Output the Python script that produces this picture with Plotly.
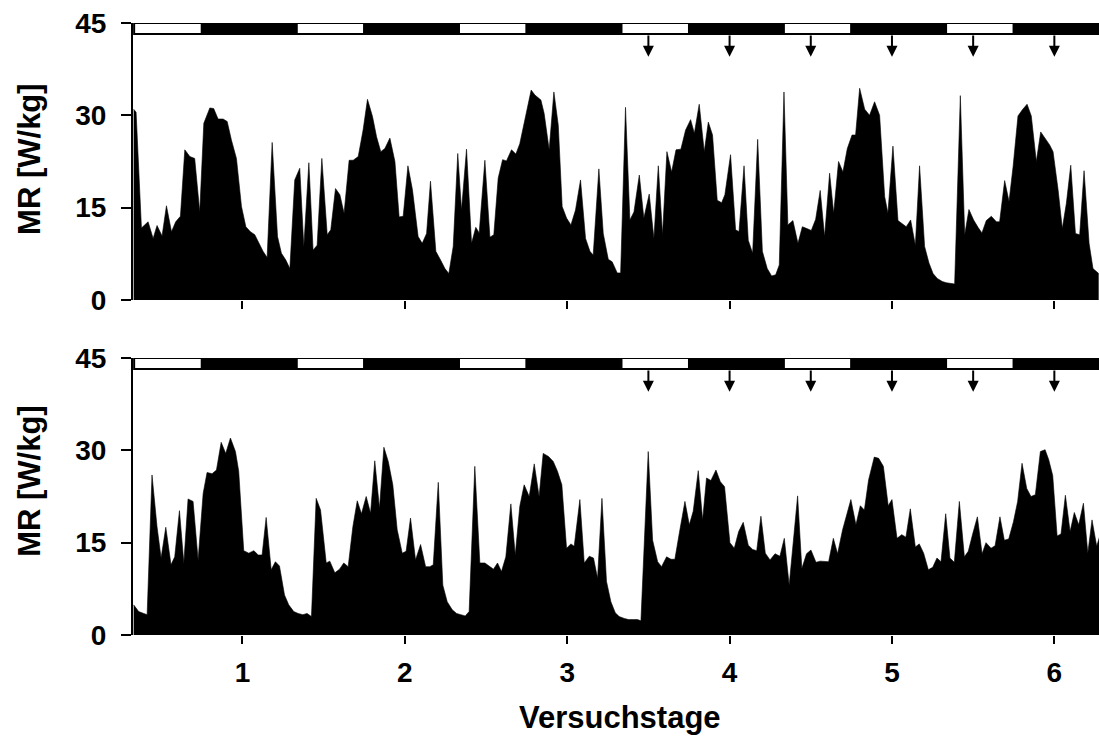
import plotly.graph_objects as go

# ---------------- data ----------------
top_day = [0.330, 0.345, 0.378, 0.419, 0.450, 0.474, 0.505, 0.532, 0.563, 0.589, 0.618, 0.645, 0.676, 0.706, 0.737,
           0.762, 0.799, 0.823, 0.850, 0.881, 0.906, 0.932, 0.963, 0.994, 1.021, 1.049, 1.076, 1.103, 1.127, 1.152,
           1.183, 1.216, 1.240, 1.267, 1.292, 1.322, 1.353, 1.378, 1.409, 1.435, 1.460, 1.489, 1.522, 1.544, 1.573,
           1.600, 1.626, 1.657, 1.682, 1.713, 1.743, 1.770, 1.801, 1.826, 1.852, 1.877, 1.908, 1.939, 1.965, 1.990,
           2.019, 2.047, 2.082, 2.107, 2.134, 2.158, 2.191, 2.220, 2.247, 2.271, 2.298, 2.326, 2.349, 2.380, 2.411,
           2.437, 2.458, 2.493, 2.524, 2.548, 2.575, 2.602, 2.626, 2.657, 2.684, 2.708, 2.739, 2.778, 2.801, 2.838,
           2.858, 2.889, 2.918, 2.945, 2.969, 2.996, 3.023, 3.051, 3.082, 3.113, 3.140, 3.160, 3.195, 3.222, 3.253,
           3.277, 3.308, 3.329, 3.359, 3.386, 3.411, 3.444, 3.472, 3.505, 3.534, 3.561, 3.587, 3.614, 3.643, 3.670,
           3.700, 3.729, 3.760, 3.783, 3.813, 3.844, 3.869, 3.895, 3.924, 3.951, 3.971, 4.006, 4.037, 4.058, 4.089,
           4.115, 4.142, 4.173, 4.202, 4.232, 4.259, 4.284, 4.306, 4.335, 4.359, 4.390, 4.421, 4.448, 4.476, 4.503,
           4.530, 4.558, 4.585, 4.616, 4.641, 4.671, 4.698, 4.725, 4.754, 4.776, 4.801, 4.832, 4.862, 4.893, 4.924,
           4.955, 4.975, 5.006, 5.037, 5.064, 5.088, 5.115, 5.144, 5.170, 5.201, 5.228, 5.253, 5.279, 5.310, 5.335,
           5.386, 5.421, 5.448, 5.474, 5.503, 5.530, 5.554, 5.581, 5.612, 5.643, 5.663, 5.694, 5.721, 5.746, 5.776,
           5.803, 5.832, 5.858, 5.889, 5.916, 5.945, 5.971, 5.992, 6.023, 6.049, 6.074, 6.101, 6.130, 6.156, 6.183,
           6.214, 6.238, 6.273]
top_mr = [31.0, 30.5, 11.7, 12.7, 10.0, 12.1, 10.4, 15.3, 11.1, 12.7, 13.6, 24.4, 23.3, 23.0, 14.3,
          28.7, 31.2, 31.1, 29.4, 29.4, 29.0, 26.0, 23.0, 15.2, 11.9, 11.1, 10.6, 9.2, 7.9, 6.9,
          25.6, 10.3, 7.6, 6.5, 5.1, 19.5, 21.4, 8.7, 22.3, 8.1, 8.9, 23.0, 10.6, 11.4, 18.1,
          17.1, 14.1, 22.7, 22.7, 23.3, 27.6, 32.6, 29.8, 26.5, 24.1, 24.6, 26.3, 22.5, 13.5, 13.6,
          21.8, 17.9, 10.3, 9.2, 10.8, 19.3, 7.9, 6.5, 5.1, 4.3, 8.7, 23.8, 14.6, 24.5, 9.2,
          11.8, 10.9, 22.7, 10.2, 10.6, 19.8, 22.8, 22.6, 24.4, 23.7, 25.4, 29.2, 34.1, 33.3, 32.5,
          30.3, 24.4, 33.8, 28.4, 15.2, 13.3, 12.2, 14.6, 19.5, 10.0, 7.9, 7.3, 21.3, 10.8, 6.6,
          6.2, 4.4, 4.4, 31.3, 13.0, 14.3, 20.3, 13.3, 17.2, 10.0, 21.8, 10.6, 24.1, 20.8, 24.4,
          24.5, 27.6, 29.3, 27.1, 31.8, 24.1, 28.9, 26.8, 16.2, 15.8, 17.1, 23.6, 11.4, 11.1, 21.8,
          9.7, 7.6, 26.1, 7.9, 5.1, 3.9, 4.1, 5.7, 33.8, 12.2, 12.9, 9.2, 11.9, 11.6, 11.3,
          13.1, 17.8, 10.3, 20.6, 14.1, 22.5, 20.8, 24.6, 26.8, 26.8, 34.4, 31.0, 30.0, 32.2, 30.0,
          16.8, 14.1, 25.0, 12.9, 12.3, 11.9, 13.0, 8.9, 21.8, 8.7, 6.0, 4.3, 3.5, 3.0, 2.8,
          2.6, 33.2, 10.6, 14.7, 13.0, 11.8, 10.9, 12.9, 13.6, 12.7, 12.7, 19.4, 16.0, 21.7, 29.9,
          30.9, 31.8, 29.9, 22.5, 27.3, 26.1, 25.2, 24.1, 17.9, 11.6, 15.7, 21.9, 10.8, 10.6, 21.0,
          9.2, 5.1, 4.3]

bottom_day = [0.330, 0.361, 0.392, 0.413, 0.443, 0.474, 0.499, 0.528, 0.560, 0.583, 0.612, 0.639, 0.665, 0.696, 0.727,
              0.758, 0.782, 0.813, 0.840, 0.869, 0.897, 0.926, 0.957, 0.977, 1.008, 1.039, 1.070, 1.097, 1.121, 1.146,
              1.177, 1.203, 1.228, 1.259, 1.285, 1.316, 1.343, 1.372, 1.398, 1.425, 1.454, 1.481, 1.516, 1.538, 1.569,
              1.598, 1.624, 1.651, 1.680, 1.707, 1.733, 1.762, 1.789, 1.815, 1.844, 1.871, 1.898, 1.926, 1.953, 1.984,
              2.008, 2.035, 2.066, 2.097, 2.128, 2.154, 2.175, 2.206, 2.234, 2.261, 2.292, 2.319, 2.345, 2.372, 2.396,
              2.431, 2.462, 2.493, 2.519, 2.546, 2.571, 2.595, 2.622, 2.653, 2.680, 2.708, 2.735, 2.766, 2.797, 2.827,
              2.852, 2.885, 2.914, 2.940, 2.967, 2.996, 3.023, 3.043, 3.078, 3.105, 3.136, 3.162, 3.187, 3.214, 3.242,
              3.269, 3.296, 3.320, 3.351, 3.378, 3.407, 3.433, 3.454, 3.499, 3.526, 3.557, 3.581, 3.612, 3.639, 3.663,
              3.694, 3.725, 3.752, 3.776, 3.807, 3.834, 3.858, 3.885, 3.916, 3.943, 3.969, 4.002, 4.029, 4.056, 4.084,
              4.115, 4.142, 4.167, 4.193, 4.220, 4.249, 4.280, 4.310, 4.337, 4.367, 4.394, 4.419, 4.445, 4.474, 4.501,
              4.532, 4.558, 4.583, 4.610, 4.639, 4.665, 4.696, 4.721, 4.747, 4.778, 4.805, 4.830, 4.856, 4.891, 4.918,
              4.947, 4.977, 5.000, 5.031, 5.060, 5.086, 5.113, 5.144, 5.168, 5.195, 5.224, 5.251, 5.277, 5.302, 5.331,
              5.357, 5.384, 5.415, 5.446, 5.470, 5.497, 5.526, 5.555, 5.579, 5.610, 5.635, 5.665, 5.692, 5.719, 5.748,
              5.774, 5.801, 5.830, 5.856, 5.883, 5.914, 5.943, 5.965, 5.990, 6.017, 6.041, 6.068, 6.097, 6.123, 6.150,
              6.179, 6.206, 6.232, 6.261, 6.282]
bottom_mr = [4.9, 3.8, 3.5, 3.3, 26.0, 17.6, 12.5, 17.5, 11.4, 12.7, 20.2, 11.7, 22.1, 21.7, 12.2,
             23.0, 26.4, 26.2, 26.8, 31.3, 29.5, 32.0, 29.8, 26.6, 13.7, 13.3, 13.7, 13.0, 13.0, 19.1,
             10.6, 11.9, 11.2, 6.5, 4.9, 3.8, 3.5, 3.3, 3.5, 3.0, 22.2, 20.3, 11.7, 12.0, 10.1,
             10.7, 11.7, 11.1, 17.6, 21.8, 19.7, 22.5, 19.8, 28.3, 20.6, 30.5, 28.2, 24.4, 17.1, 13.3,
             13.6, 19.0, 12.2, 14.7, 11.1, 11.1, 11.4, 24.8, 8.1, 5.4, 4.1, 3.5, 3.3, 3.1, 3.8,
             27.4, 11.7, 11.7, 11.2, 10.7, 11.7, 10.3, 12.7, 21.3, 13.0, 20.9, 24.4, 22.5, 27.8, 22.5,
             29.5, 29.0, 28.2, 26.6, 24.4, 14.1, 14.8, 14.4, 22.0, 11.7, 12.8, 12.5, 9.2, 22.2, 8.7,
             5.4, 3.6, 3.0, 2.7, 2.5, 2.5, 2.5, 2.3, 29.8, 15.4, 11.9, 11.1, 12.7, 12.3, 12.3,
             17.1, 21.7, 17.9, 20.1, 26.7, 18.7, 25.5, 25.1, 26.8, 24.9, 24.1, 15.0, 14.1, 16.8, 18.3,
             14.6, 13.9, 13.7, 19.3, 13.3, 12.2, 13.2, 12.8, 15.7, 8.1, 15.4, 22.6, 10.8, 13.2, 13.8,
             11.8, 12.0, 11.9, 11.9, 15.7, 13.2, 17.1, 19.5, 22.0, 17.9, 21.0, 20.3, 25.2, 28.9, 28.7,
             27.4, 21.0, 22.0, 15.7, 16.3, 15.9, 20.5, 14.3, 14.8, 13.3, 10.6, 11.0, 12.5, 11.9, 19.7,
             12.5, 11.8, 21.7, 12.7, 13.6, 16.4, 19.2, 13.2, 15.0, 14.1, 14.5, 19.2, 15.4, 15.6, 18.4,
             21.7, 27.9, 23.8, 22.5, 22.8, 29.8, 30.1, 28.5, 25.9, 16.1, 16.4, 22.7, 16.8, 19.9, 17.9,
             21.4, 13.3, 18.7, 14.4, 16.3]

# light phases (08:00-18:00) and dark phases (18:00-08:00), in days
light_start = [0.333, 1.333, 2.333, 3.333, 4.333, 5.333]
light_end = [0.750, 1.750, 2.750, 3.750, 4.750, 5.750]
dark_start = [0.750, 1.750, 2.750, 3.750, 4.750, 5.750]
dark_end = [1.333, 2.333, 3.333, 4.333, 5.333, 6.333]

arrow_days = [3.5, 4.0, 4.5, 5.0, 5.5, 6.0]

x_ticks = [1, 2, 3, 4, 5, 6]
y_ticks = [0, 15, 30, 45]
y_title = "MR [W/kg]"
x_title = "Versuchstage"

# ---------------- figure ----------------
FONT = "Liberation Sans, Arial, sans-serif"
BAR_LO, BAR_HI = 43.2, 45.0
ARROW_TIP = 39.5
XR = [0.326, 6.275]

fig = go.Figure()
panels = [("x", "y", top_day, top_mr), ("x2", "y2", bottom_day, bottom_mr)]
for xa, ya, d, v in panels:
    fig.add_trace(go.Scatter(x=d, y=v, mode="lines", fill="tozeroy",
                             fillcolor="black", line=dict(color="black", width=0.6),
                             xaxis=xa, yaxis=ya, showlegend=False, hoverinfo="skip"))

shapes = []
annotations = []
for xa, ya, _, _ in panels:
    for s, e in zip(light_start, light_end):
        shapes.append(dict(type="rect", xref=xa, yref=ya, x0=s, x1=e, y0=BAR_LO, y1=BAR_HI,
                           fillcolor="white", line=dict(color="black", width=2), layer="above"))
    for s, e in zip(dark_start, dark_end):
        shapes.append(dict(type="rect", xref=xa, yref=ya, x0=s, x1=e, y0=BAR_LO, y1=BAR_HI,
                           fillcolor="black", line=dict(color="black", width=2), layer="above"))
    for a in arrow_days:
        annotations.append(dict(x=a, y=ARROW_TIP, ax=a, ay=BAR_LO, xref=xa, yref=ya,
                                axref=xa, ayref=ya, text="", showarrow=True,
                                arrowhead=2, arrowsize=1.1, arrowwidth=2, arrowcolor="black"))

# axis titles as annotations
for yc in (0.778, 0.252):
    annotations.append(dict(text="<b>%s</b>" % y_title, xref="paper", yref="paper",
                            x=-0.1066, y=yc, xanchor="center", yanchor="middle",
                            textangle=-90, showarrow=False,
                            font=dict(family=FONT, size=31, color="black")))
annotations.append(dict(text="<b>%s</b>" % x_title, xref="paper", yref="paper",
                        x=0.504, y=-0.134, xanchor="center", yanchor="middle",
                        showarrow=False, font=dict(family=FONT, size=31, color="black")))

tickfont = dict(family=FONT, size=28, color="black", weight="bold")
xcommon = dict(range=XR, tickmode="array", tickvals=x_ticks, ticks="outside", ticklen=8,
               tickwidth=2, tickcolor="black", showgrid=False, zeroline=False,
               showline=False, tickfont=tickfont)
ycommon = dict(range=[0, 45], tickmode="array", tickvals=y_ticks, ticks="outside", ticklen=10,
               tickwidth=2, tickcolor="black", showgrid=False, zeroline=False,
               showline=True, linecolor="black", linewidth=2, tickfont=tickfont,
               ticklabelstandoff=9)

fig.update_layout(
    width=1099, height=740,
    paper_bgcolor="white", plot_bgcolor="white",
    margin=dict(l=133, r=0, t=23, b=105, autoexpand=False),
    xaxis=dict(**xcommon, domain=[0, 1], anchor="y", showticklabels=False),
    yaxis=dict(**ycommon, domain=[0.5474, 1], anchor="x"),
    xaxis2=dict(**xcommon, domain=[0, 1], anchor="y2", ticklabelstandoff=4),
    yaxis2=dict(**ycommon, domain=[0, 0.4526], anchor="x2"),
    shapes=shapes, annotations=annotations,
)

fig.write_html("out.html", config={"displayModeBar": False},
               post_script="document.body.style.margin='0px';document.body.style.overflow='hidden';")
